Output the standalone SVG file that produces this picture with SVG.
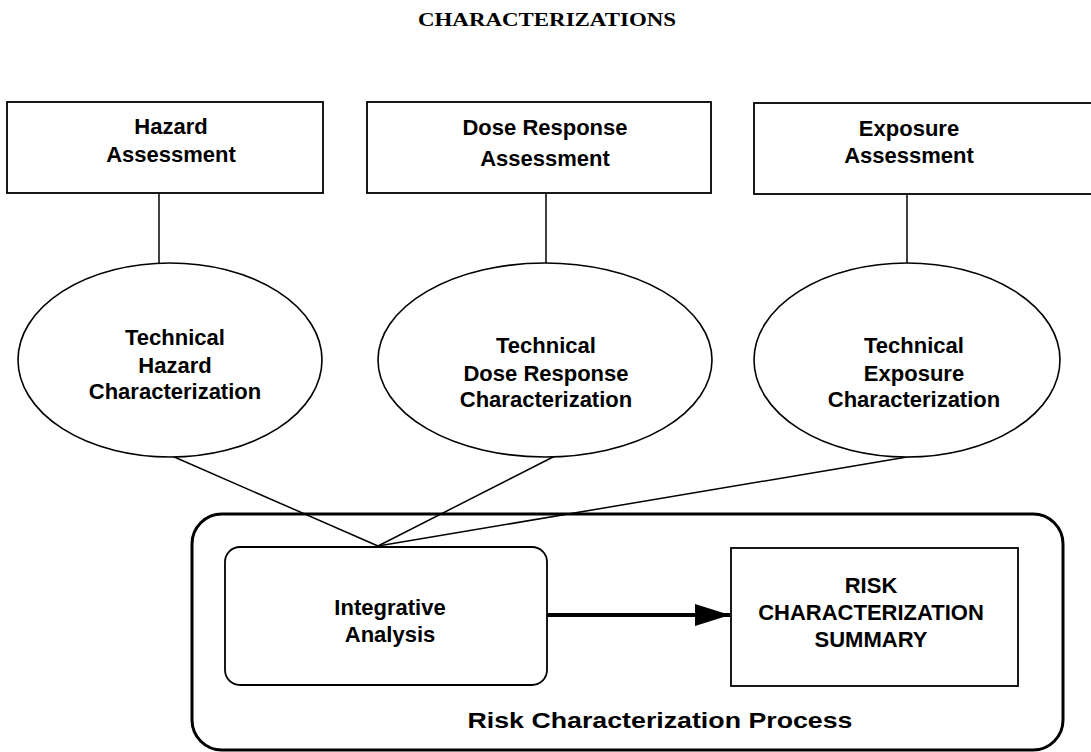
<svg xmlns="http://www.w3.org/2000/svg" width="1091" height="752" viewBox="0 0 1091 752">
<defs>
<style>
.box{fill:#fff;stroke:#000;stroke-width:1.8}
.ell{fill:#fff;stroke:#000;stroke-width:1.6}
.lbl{font-family:"Liberation Sans",Arial,sans-serif;font-weight:bold;font-size:22px;fill:#000;text-anchor:middle}
.conn{stroke:#000;stroke-width:1.5;fill:none}
</style>
<marker id="arr" markerWidth="36" markerHeight="22" refX="35" refY="11" orientation="auto" markerUnits="userSpaceOnUse">
<path d="M0,0 L35,11 L0,22 Z" fill="#000"/>
</marker>
</defs>
<rect width="1091" height="752" fill="#fff"/>
<text x="547" y="26" font-family="'Liberation Serif','Times New Roman',serif" font-weight="bold" font-size="19" text-anchor="middle" textLength="258" lengthAdjust="spacingAndGlyphs">CHARACTERIZATIONS</text>

<g id="process">
<rect x="192" y="514" width="871" height="236" rx="30" ry="30" fill="none" stroke="#000" stroke-width="3"/>
<text class="lbl" x="660" y="728" font-size="26" textLength="385" lengthAdjust="spacingAndGlyphs">Risk Characterization Process</text>
</g>

<g id="connectors">
<line class="conn" x1="159" y1="193" x2="159" y2="263"/>
<line class="conn" x1="546" y1="193" x2="546" y2="263"/>
<line class="conn" x1="907" y1="194" x2="907" y2="263"/>
<line class="conn" x1="172" y1="456" x2="378" y2="546"/>
<line class="conn" x1="555" y1="456" x2="378" y2="546"/>
<line class="conn" x1="913" y1="456" x2="378" y2="546"/>
<line x1="547" y1="615" x2="730" y2="615" stroke="#000" stroke-width="4" marker-end="url(#arr)"/>
</g>

<g id="hazard-assessment">
<rect class="box" x="7" y="102" width="316" height="91"/>
<text class="lbl" x="171" y="134">Hazard</text>
<text class="lbl" x="171" y="162">Assessment</text>
</g>
<g id="dose-assessment">
<rect class="box" x="367" y="102" width="344" height="91"/>
<text class="lbl" x="545" y="135">Dose Response</text>
<text class="lbl" x="545" y="166">Assessment</text>
</g>
<g id="exposure-assessment">
<rect class="box" x="754" y="103" width="346" height="91"/>
<text class="lbl" x="909" y="136">Exposure</text>
<text class="lbl" x="909" y="163">Assessment</text>
</g>

<g id="hazard-char">
<ellipse class="ell" cx="170" cy="360" rx="152" ry="97"/>
<text class="lbl" x="175" y="345">Technical</text>
<text class="lbl" x="175" y="373">Hazard</text>
<text class="lbl" x="175" y="399">Characterization</text>
</g>
<g id="dose-char">
<ellipse class="ell" cx="545" cy="360" rx="167" ry="97"/>
<text class="lbl" x="546" y="353">Technical</text>
<text class="lbl" x="546" y="381">Dose Response</text>
<text class="lbl" x="546" y="407">Characterization</text>
</g>
<g id="exposure-char">
<ellipse class="ell" cx="907" cy="360" rx="153" ry="97"/>
<text class="lbl" x="914" y="353">Technical</text>
<text class="lbl" x="914" y="381">Exposure</text>
<text class="lbl" x="914" y="407">Characterization</text>
</g>

<g id="integrative">
<rect class="box" x="225" y="547" width="322" height="138" rx="15" ry="15"/>
<text class="lbl" x="390" y="615">Integrative</text>
<text class="lbl" x="390" y="642">Analysis</text>
</g>
<g id="summary">
<rect class="box" x="731" y="548" width="287" height="138"/>
<text class="lbl" x="871" y="593">RISK</text>
<text class="lbl" x="871" y="620">CHARACTERIZATION</text>
<text class="lbl" x="871" y="647">SUMMARY</text>
</g>
</svg>
